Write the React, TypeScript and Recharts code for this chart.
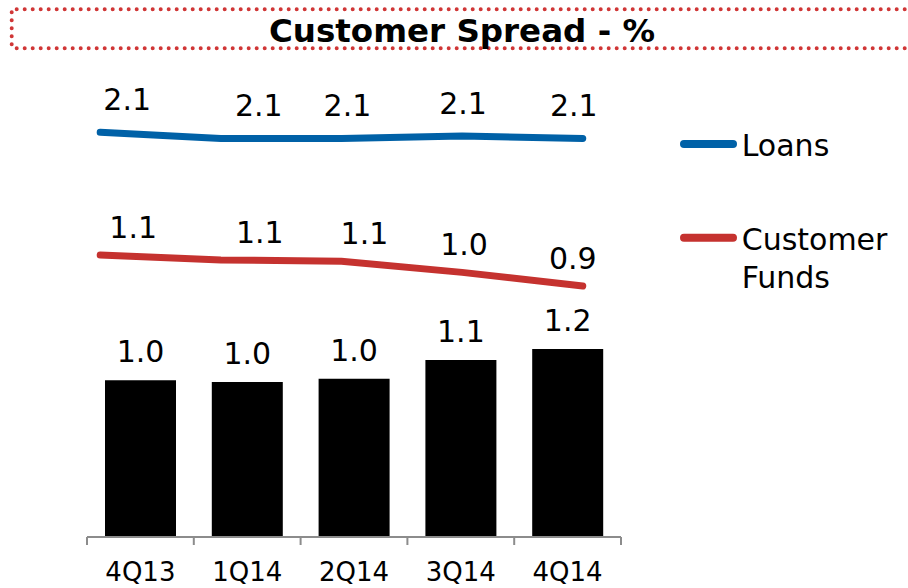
import {
  ComposedChart,
  Bar,
  Line,
  XAxis,
  YAxis,
  LabelList,
} from "recharts";

// quarters and values
const quarters = ["4Q13", "1Q14", "2Q14", "3Q14", "4Q14"];
const customerSpread = [1.0, 0.99, 1.01, 1.13, 1.2];
const loans = [2.11, 2.06, 2.06, 2.08, 2.06];
const customerFunds = [1.12, 1.08, 1.07, 0.98, 0.87];

// label nudges (Excel had them dragged around a bit)
const loansLabelShift = [27, 38, 6, 1, -9];
const fundsLabelShift = [33, 39, 23, 2, -10];

const data = quarters.map((q, i) => ({
  quarter: q,
  spread: customerSpread[i],
  loans: loans[i],
  funds: customerFunds[i],
}));

const FONT = "'DejaVu Sans', Verdana, sans-serif";
const BLUE = "#0061a7";
const RED = "#c5322f";

const W = 908;
const H = 588;
const PLOT_LEFT = 87;
const PLOT_RIGHT = 621;
const BAND = (PLOT_RIGHT - PLOT_LEFT) / quarters.length;

const CategoryTick = (props: any) => {
  const { x, y, payload, index } = props;
  const left = x - BAND / 2;
  return (
    <g>
      <line x1={left} y1={y} x2={left} y2={y + 8} stroke="#8c8c8c" strokeWidth={2} />
      {index === quarters.length - 1 && (
        <line x1={x + BAND / 2} y1={y} x2={x + BAND / 2} y2={y + 8} stroke="#8c8c8c" strokeWidth={2} />
      )}
      <text x={x} y={y + 44} textAnchor="middle" fontSize={26} fontFamily={FONT} fill="#000">
        {payload.value}
      </text>
    </g>
  );
};

const lineLabel = (shift: number[], dy: number) => (props: any) => {
  const { x, y, value, index } = props;
  return (
    <text
      x={x + shift[index]}
      y={y + dy}
      textAnchor="middle"
      fontSize={30}
      fontFamily={FONT}
      fill="#000"
    >
      {Number(value).toFixed(1)}
    </text>
  );
};

const legendItems = [
  { lines: ["Loans"], color: BLUE },
  { lines: ["Customer", "Funds"], color: RED },
];

const LegendBox = () => (
  <svg width={228} height={200} style={{ position: "absolute", left: 680, top: 110 }}>
    {legendItems.map((item, i) => {
      const cy = 34 + i * 93.7;
      return (
        <g key={item.color}>
          <line x1={4} y1={cy} x2={53} y2={cy} stroke={item.color} strokeWidth={8} strokeLinecap="round" />
          {item.lines.map((t, j) => (
            <text key={t} x={61.7} y={cy + 12 + j * 38} fontSize={30} fontFamily={FONT} fill="#000">
              {t}
            </text>
          ))}
        </g>
      );
    })}
  </svg>
);

export default function App() {
  return (
    <div style={{ position: "absolute", left: 0, top: 0, width: W, height: H, background: "#fff", overflow: "hidden" }}>
      <svg width={W} height={60} style={{ position: "absolute", left: 0, top: 0 }}>
        <g stroke="#d03636" strokeWidth={4} strokeLinecap="round" strokeDasharray="0 8" fill="none">
          <path d="M16.7 9.3 H912" />
          <path d="M11.7 12.3 V46" />
          <path d="M16.7 48.3 H912" />
        </g>
        <text x={462} y={42} textAnchor="middle" fontSize={32.5} fontWeight="bold" fontFamily={FONT} fill="#000">
          Customer Spread - %
        </text>
      </svg>
      <div style={{ position: "absolute", left: 0, top: 0 }}>
        <ComposedChart
          width={W}
          height={H}
          data={data}
          margin={{ top: 100, right: W - PLOT_RIGHT, bottom: 0, left: PLOT_LEFT }}
        >
          <XAxis
            xAxisId="cat"
            dataKey="quarter"
            type="category"
            height={51}
            axisLine={{ stroke: "#8c8c8c", strokeWidth: 2 }}
            tickLine={false}
            tickSize={0}
            tickMargin={0}
            tick={<CategoryTick />}
            interval={0}
          />
          <XAxis
            xAxisId="pos"
            type="number"
            dataKey={(d: any) => quarters.indexOf(d.quarter)}
            domain={[-0.1095, 4.317]}
            allowDataOverflow
            hide
          />
          <YAxis yAxisId="bar" domain={[0, 2.789]} allowDataOverflow hide />
          <YAxis yAxisId="line" domain={[-1.154, 2.37]} allowDataOverflow hide />
          <Bar
            xAxisId="cat"
            yAxisId="bar"
            dataKey="spread"
            fill="#000"
            barSize={71}
            isAnimationActive={false}
          >
            <LabelList
              dataKey="spread"
              position="top"
              offset={18}
              formatter={(v: any) => Number(v).toFixed(1)}
              style={{ fontSize: 30, fontFamily: FONT, fill: "#000" }}
            />
          </Bar>
          <Line
            xAxisId="pos"
            yAxisId="line"
            dataKey="loans"
            name="Loans"
            stroke={BLUE}
            strokeWidth={7}
            strokeLinecap="round"
            dot={false}
            type="linear"
            isAnimationActive={false}
          >
            <LabelList dataKey="loans" content={lineLabel(loansLabelShift, -22)} />
          </Line>
          <Line
            xAxisId="pos"
            yAxisId="line"
            dataKey="funds"
            name="Customer Funds"
            stroke={RED}
            strokeWidth={7}
            strokeLinecap="round"
            dot={false}
            type="linear"
            isAnimationActive={false}
          >
            <LabelList dataKey="funds" content={lineLabel(fundsLabelShift, -17)} />
          </Line>
        </ComposedChart>
      </div>
      <LegendBox />
    </div>
  );
}
